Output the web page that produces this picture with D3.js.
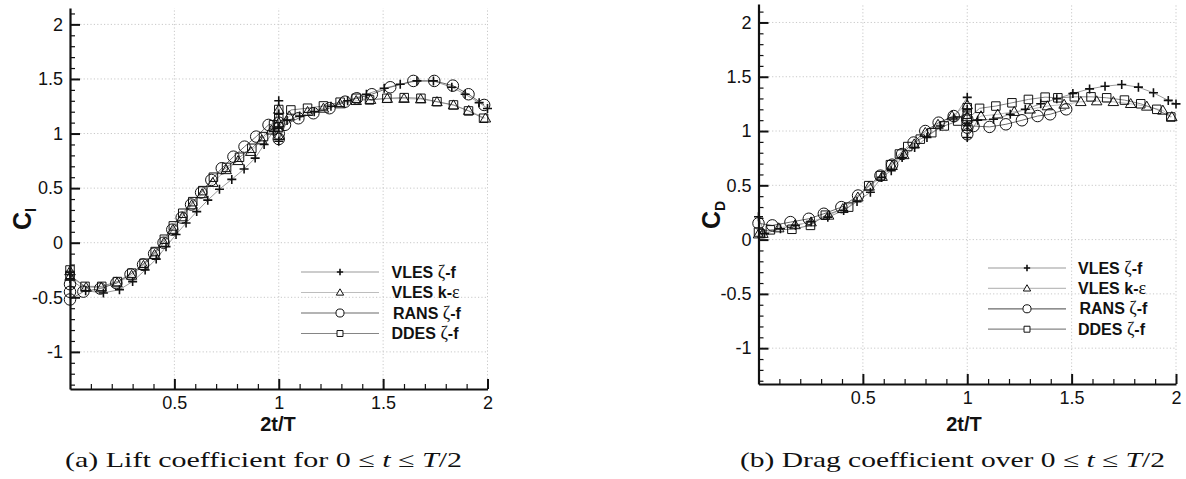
<!DOCTYPE html>
<html>
<head>
<meta charset="utf-8">
<script src="https://cdn.jsdelivr.net/npm/d3@7"></script>
<style>
  html, body { margin: 0; padding: 0; background: #fff; }
  svg { display: block; }
  text { fill: #111; }
</style>
</head>
<body>
<svg id="fig" width="1186" height="479"></svg>
<script>
// ---- Lift coefficient, [2t/T, Cl] ----
const liftVlesZf = [[0,-0.27],[0,-0.33],[0.075,-0.44],[0.16,-0.46],[0.237,-0.43],[0.30,-0.356],[0.36,-0.25],[0.413,-0.15],[0.46,-0.036],[0.508,0.075],[0.556,0.18],[0.607,0.285],[0.66,0.39],[0.716,0.49],[0.775,0.58],[0.834,0.675],[0.887,0.775],[0.93,0.9],[0.975,1.02],[1.0,1.3],[1.0,1.18],[1.0,1.05],[1.0,0.93],[1.04,1.12],[1.1,1.16],[1.17,1.2],[1.25,1.25],[1.33,1.3],[1.42,1.36],[1.505,1.415],[1.582,1.451],[1.662,1.482],[1.741,1.482],[1.829,1.424],[1.893,1.36],[1.96,1.283],[2.0,1.23]];
const liftVlesKe = [[0,-0.26],[0,-0.31],[0.077,-0.41],[0.15,-0.41],[0.225,-0.37],[0.295,-0.3],[0.352,-0.21],[0.405,-0.11],[0.45,0.0],[0.493,0.12],[0.538,0.235],[0.583,0.345],[0.633,0.447],[0.684,0.55],[0.748,0.667],[0.805,0.75],[0.866,0.834],[0.919,0.94],[0.965,1.03],[1.0,1.22],[1.0,1.1],[1.0,0.98],[1.05,1.16],[1.138,1.2],[1.214,1.23],[1.294,1.27],[1.371,1.3],[1.44,1.31],[1.52,1.32],[1.6,1.32],[1.68,1.315],[1.758,1.29],[1.837,1.26],[1.91,1.21],[1.99,1.14]];
const liftRans = [[0,-0.38],[0,-0.45],[0,-0.52],[0.064,-0.448],[0.145,-0.42],[0.222,-0.37],[0.29,-0.29],[0.35,-0.2],[0.403,-0.1],[0.448,0.0],[0.49,0.12],[0.535,0.23],[0.58,0.35],[0.628,0.46],[0.677,0.575],[0.727,0.682],[0.783,0.788],[0.836,0.88],[0.892,0.972],[0.951,1.079],[1.0,1.1],[1.0,1.0],[1.0,0.95],[1.03,1.08],[1.094,1.14],[1.166,1.186],[1.243,1.232],[1.318,1.292],[1.374,1.323],[1.446,1.36],[1.534,1.424],[1.645,1.482],[1.745,1.482],[1.834,1.439],[1.909,1.36],[1.984,1.262]];
const liftDdes = [[0,-0.25],[0,-0.3],[0.072,-0.40],[0.152,-0.40],[0.227,-0.356],[0.296,-0.279],[0.355,-0.188],[0.408,-0.081],[0.452,0.032],[0.495,0.154],[0.54,0.27],[0.588,0.376],[0.636,0.477],[0.687,0.6],[0.75,0.69],[0.812,0.783],[0.871,0.865],[0.927,0.972],[0.975,1.08],[1.0,1.22],[1.0,1.14],[1.0,1.06],[1.058,1.216],[1.138,1.232],[1.214,1.253],[1.294,1.287],[1.371,1.323],[1.435,1.308],[1.518,1.323],[1.601,1.329],[1.681,1.323],[1.758,1.292],[1.837,1.262],[1.909,1.207],[1.981,1.14]];

// ---- Drag coefficient, [2t/T, CD] ----
const dragVlesZf = [[0,0.21],[0.029,0.055],[0.105,0.1],[0.177,0.131],[0.252,0.165],[0.332,0.207],[0.408,0.268],[0.472,0.35],[0.536,0.436],[0.589,0.573],[0.636,0.635],[0.688,0.756],[0.748,0.848],[0.807,0.94],[0.871,1.047],[0.935,1.12],[1.0,1.31],[1.0,1.2],[1.0,1.05],[1.0,0.94],[1.05,1.1],[1.126,1.108],[1.206,1.154],[1.278,1.2],[1.352,1.251],[1.429,1.297],[1.506,1.346],[1.586,1.388],[1.66,1.413],[1.74,1.428],[1.82,1.404],[1.892,1.352],[1.963,1.282],[2.0,1.25]];
const dragVlesKe = [[0,0.05],[0.021,0.055],[0.097,0.106],[0.175,0.135],[0.252,0.161],[0.336,0.223],[0.404,0.284],[0.476,0.39],[0.53,0.49],[0.592,0.58],[0.64,0.68],[0.696,0.78],[0.746,0.879],[0.799,0.985],[0.86,1.06],[0.927,1.138],[1.0,1.24],[1.0,1.13],[1.0,1.04],[1.066,1.138],[1.146,1.154],[1.225,1.178],[1.301,1.2],[1.384,1.23],[1.464,1.245],[1.544,1.269],[1.62,1.276],[1.7,1.269],[1.783,1.251],[1.86,1.227],[1.937,1.19],[1.98,1.13]];
const dragRans = [[0,0.15],[0.066,0.131],[0.153,0.161],[0.241,0.192],[0.313,0.238],[0.397,0.299],[0.477,0.406],[0.584,0.589],[0.64,0.69],[0.688,0.788],[0.743,0.894],[0.799,1.0],[0.863,1.077],[0.935,1.138],[1.0,1.108],[1.0,1.031],[1.0,0.97],[1.03,1.046],[1.107,1.038],[1.185,1.062],[1.262,1.099],[1.337,1.138],[1.397,1.154],[1.474,1.2]];
const dragDdes = [[0,0.07],[0.057,0.09],[0.16,0.095],[0.249,0.131],[0.32,0.225],[0.432,0.299],[0.528,0.497],[0.584,0.589],[0.632,0.69],[0.675,0.788],[0.715,0.857],[0.775,0.925],[0.83,0.985],[0.89,1.047],[0.954,1.092],[1.0,1.215],[1.0,1.154],[1.0,1.108],[1.059,1.209],[1.137,1.23],[1.214,1.26],[1.293,1.291],[1.373,1.312],[1.434,1.306],[1.513,1.315],[1.593,1.315],[1.668,1.306],[1.753,1.285],[1.831,1.251],[1.908,1.2],[1.975,1.129]];

// ---- Legend entries and axis ticks ----
const seriesNames = [["VLES ", "ζ", "-f"], ["VLES k-", "ε", ""], ["RANS ", "ζ", "-f"], ["DDES ", "ζ", "-f"]];
const seriesMarkers = ["plus", "triangle", "circle", "square"];
const seriesLineColors = ["#9a9a9a", "#bdbdbd", "#6a6a6a", "#858585"];
const xMajorTicks = [0.5, 1, 1.5, 2];
const yMajorTicks = [-1, -0.5, 0, 0.5, 1, 1.5, 2];
const xAxisTitle = "2t/T";

const SANS = "\"Liberation Sans\", Arial, Helvetica, sans-serif";
const SERIF = "\"Liberation Serif\", \"Times New Roman\", serif";

const svg = d3.select("#fig");
svg.append("rect").attr("width", 1186).attr("height", 479).attr("fill", "#fff");

function markerPath(type, s) {
  // s: overall symbol size in px
  const h = s / 2;
  if (type === "plus") return `M${-h},0H${h}M0,${-h}V${h}`;
  if (type === "square") return `M${-h},${-h}H${h}V${h}H${-h}Z`;
  if (type === "triangle") return `M0,${-h * 1.05}L${h * 1.05},${h * 0.75}L${-h * 1.05},${h * 0.75}Z`;
  // circle
  return `M${h},0A${h},${h} 0 1,1 ${-h},0A${h},${h} 0 1,1 ${h},0Z`;
}
const markerSize = { plus: 9, triangle: 10, circle: 11.5, square: 8.5 };

function drawPanel(cfg) {
  const g = svg.append("g").style("font-family", SANS);
  const x = d3.scaleLinear().domain([0, 2]).range(cfg.xRange);
  const y = d3.scaleLinear().domain(cfg.yDomain).range(cfg.yRange);
  const [x0, x1] = cfg.xRange;
  const [yb, yt] = cfg.yRange;

  // dotted grid at the major ticks
  const grid = g.append("g").attr("stroke", "#c8c8c8").attr("stroke-width", 1).attr("stroke-dasharray", "1.2,2.2");
  grid.selectAll("line.gx").data(xMajorTicks).join("line")
    .attr("x1", d => x(d)).attr("x2", d => x(d)).attr("y1", yb).attr("y2", yt);
  grid.selectAll("line.gy").data(yMajorTicks).join("line")
    .attr("x1", x0).attr("x2", x1).attr("y1", d => y(d)).attr("y2", d => y(d));

  // curves
  const line = d3.line().x(d => x(d[0])).y(d => y(d[1])).curve(d3.curveLinear);
  cfg.series.forEach((s, i) => {
    g.append("path").attr("d", line(s)).attr("fill", "none")
      .attr("stroke", seriesLineColors[i]).attr("stroke-width", 1);
  });
  // symbols
  cfg.series.forEach((s, i) => {
    const m = seriesMarkers[i];
    g.append("g").selectAll("path").data(s).join("path")
      .attr("transform", d => `translate(${x(d[0])},${y(d[1])})`)
      .attr("d", markerPath(m, markerSize[m]))
      .attr("fill", "none").attr("stroke", "#111")
      .attr("stroke-width", m === "plus" ? 1.6 : 1);
  });

  // axes: inward ticks, minor every 0.1
  const xMinor = d3.range(1, 20).map(v => v / 10).filter(v => !xMajorTicks.includes(v));
  const yMinor = d3.range(-13, 22).map(v => v / 10).filter(v => !yMajorTicks.includes(v));

  const xAxis = g.append("g").attr("transform", `translate(0,${yb})`)
    .call(d3.axisBottom(x).tickValues(xMajorTicks).tickSizeInner(-10).tickSizeOuter(0).tickPadding(7).tickFormat(d => String(d)));
  g.append("g").attr("transform", `translate(0,${yb})`)
    .call(d3.axisBottom(x).tickValues(xMinor).tickSizeInner(-5).tickSizeOuter(0).tickFormat(""))
    .call(a => a.select(".domain").remove());
  const yAxis = g.append("g").attr("transform", `translate(${x0},0)`)
    .call(d3.axisLeft(y).tickValues(yMajorTicks).tickSizeInner(-10).tickSizeOuter(0).tickPadding(7).tickFormat(d => String(d)));
  g.append("g").attr("transform", `translate(${x0},0)`)
    .call(d3.axisLeft(y).tickValues(yMinor).tickSizeInner(-5).tickSizeOuter(0).tickFormat(""))
    .call(a => a.select(".domain").remove());

  g.selectAll(".domain").attr("stroke", "#111").attr("stroke-width", 2.2);
  g.selectAll(".tick line").attr("stroke", "#111").attr("stroke-width", 1.2);
  [xAxis, yAxis].forEach(a => {
    a.attr("font-family", null);
    a.selectAll(".tick line").attr("stroke-width", 2);
    a.selectAll(".tick text").attr("font-size", 18).attr("fill", "#111").style("font-family", SANS);
  });

  // axis titles
  g.append("text").attr("x", cfg.xTitleX).attr("y", 431)
    .attr("text-anchor", "middle").attr("font-size", 20).attr("font-weight", "bold")
    .text(xAxisTitle);
  const yt2 = g.append("text")
    .attr("transform", `translate(${cfg.yTitle[0]},${cfg.yTitle[1]}) rotate(-90)`)
    .attr("text-anchor", "middle").attr("font-weight", "bold");
  yt2.append("tspan").attr("font-size", 25).text("C");
  yt2.append("tspan").attr("font-size", 14).attr("dy", 5).text(cfg.ySub);

  // legend
  const lg = g.append("g");
  cfg.series.forEach((s, i) => {
    const cy = cfg.legend.y0 + i * cfg.legend.dy;
    lg.append("line").attr("x1", cfg.legend.x0).attr("x2", cfg.legend.x0 + 78)
      .attr("y1", cy).attr("y2", cy).attr("stroke", seriesLineColors[i]).attr("stroke-width", 1.2);
    const m = seriesMarkers[i];
    lg.append("path").attr("transform", `translate(${cfg.legend.x0 + 39},${cy})`)
      .attr("d", markerPath(m, markerSize[m] * 0.7))
      .attr("fill", "#fff").attr("stroke", "#111").attr("stroke-width", m === "plus" ? 1.6 : 1);
    const t = lg.append("text").attr("x", cfg.legend.tx + (i === 2 ? 1.5 : 0)).attr("y", cy + 5.5)
      .attr("font-size", 16).attr("font-weight", "bold");
    const [a, gr, b] = seriesNames[i];
    t.append("tspan").text(a);
    t.append("tspan").attr("font-weight", "normal").style("font-family", SERIF)
      .attr("font-size", 18).text(gr);
    if (b) t.append("tspan").text(b);
  });

  // caption
  const cap = g.append("text").attr("x", cfg.caption.x).attr("y", 467)
    .style("font-family", SERIF).attr("font-size", 21)
    .attr("textLength", cfg.caption.w).attr("lengthAdjust", "spacingAndGlyphs");
  cap.append("tspan").text(cfg.caption.text + " 0 ≤ ");
  cap.append("tspan").attr("font-style", "italic").text("t");
  cap.append("tspan").text(" ≤ ");
  cap.append("tspan").attr("font-style", "italic").text("T");
  cap.append("tspan").text("/2");
}

drawPanel({
  xRange: [70, 487.5], yDomain: [-1.34, 2.15], yRange: [389, 8],
  series: [liftVlesZf, liftVlesKe, liftRans, liftDdes],
  xTitleX: 278, yTitle: [31, 219], ySub: "l",
  legend: { x0: 301, y0: 272, dy: 20.5, tx: 391.5 },
  caption: { x: 65, w: 397, text: "(a) Lift coefficient for" }
});
drawPanel({
  xRange: [758.5, 1176], yDomain: [-1.33, 2.17], yRange: [384, 4],
  series: [dragVlesZf, dragVlesKe, dragRans, dragDdes],
  xTitleX: 964, yTitle: [720, 215], ySub: "D",
  legend: { x0: 988, y0: 268, dy: 20.4, tx: 1078 },
  caption: { x: 740, w: 425, text: "(b) Drag coefficient over" }
});
</script>
</body>
</html>
